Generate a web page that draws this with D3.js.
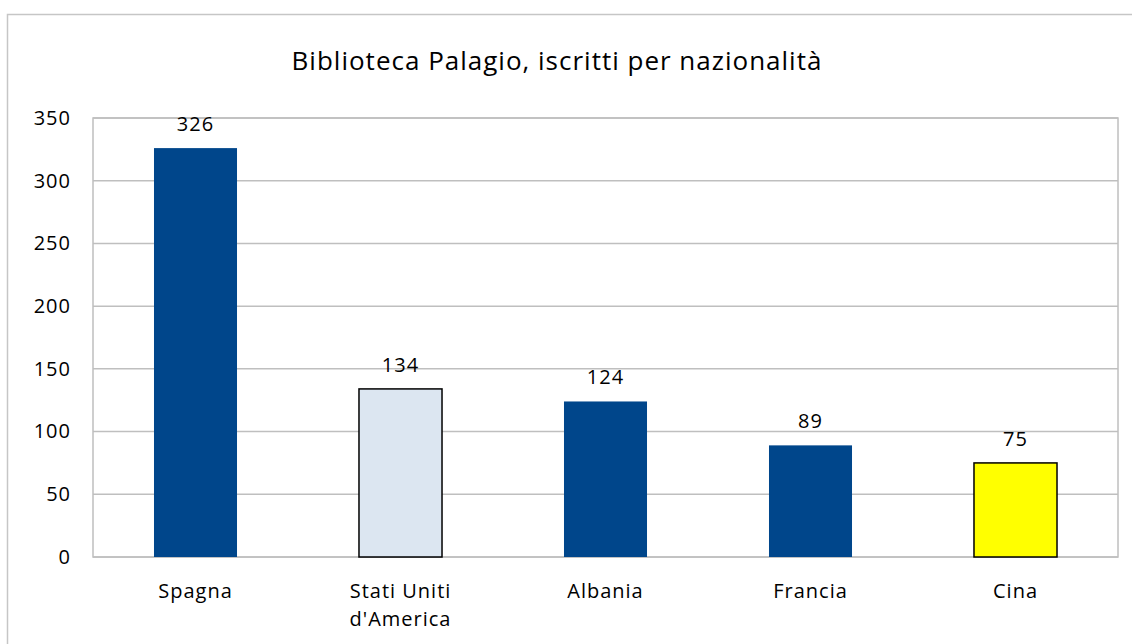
<!DOCTYPE html>
<html>
<head>
<meta charset="utf-8">
<script src="https://cdn.jsdelivr.net/npm/d3@7"></script>
<style>
  body { margin: 0; background: #fff; }
  text { font-family: "Open Sans", sans-serif; fill: #000; letter-spacing: 1px; }
</style>
</head>
<body>
<div id="canvas"></div>
<script>
// data
var countries = ['Spagna', "Stati Uniti\nd'America", 'Albania', 'Francia', 'Cina'];
var iscritti = [326, 134, 124, 89, 75];
var barColors = ['#00468b', '#dce6f1', '#00468b', '#00468b', '#ffff00'];
var barStroke = ['none', '#000', 'none', 'none', '#000'];
var yTicks = [0, 50, 100, 150, 200, 250, 300, 350];

var W = 1132, H = 644;
var m = {t:118, r:14, b:87, l:93};
var w = W - m.l - m.r,
    h = H - m.t - m.b;

var svg = d3.select('#canvas')
    .append('svg')
    .attr('width', W)
    .attr('height', H);

// outer chart border
svg.append('rect')
    .attr('x', 7.5).attr('y', 14.5)
    .attr('width', W).attr('height', H)
    .attr('fill', 'none')
    .attr('stroke', '#c6c6c6')
    .attr('stroke-width', 1.5);

svg.append('text')
    .attr('x', 557)
    .attr('y', 70)
    .attr('text-anchor', 'middle')
    .style('font-size', '26px')
    .text('Biblioteca Palagio, iscritti per nazionalità');

var plot = svg.append('g')
    .attr('transform', 'translate(' + m.l + ',' + m.t + ')');

var scaleX = d3.scaleBand()
    .domain(countries)
    .range([0, w])
    .paddingInner(0.595)
    .paddingOuter(0.2975);

var scaleY = d3.scaleLinear()
    .domain([0, 350])
    .range([h, 0]);

// gridlines
plot.selectAll('.grid')
    .data(yTicks)
    .enter()
    .append('line')
    .attr('class', 'grid')
    .attr('x1', 0).attr('x2', w)
    .attr('y1', function(d){ return scaleY(d); })
    .attr('y2', function(d){ return scaleY(d); })
    .attr('stroke', '#bfbfbf')
    .attr('stroke-width', 1.5);

// plot border
plot.append('rect')
    .attr('x', 0).attr('y', 0)
    .attr('width', w).attr('height', h)
    .attr('fill', 'none')
    .attr('stroke', '#bfbfbf')
    .attr('stroke-width', 1.5);

// y axis labels
var axisY = d3.axisLeft(scaleY)
    .tickValues(yTicks)
    .tickSize(0)
    .tickPadding(22);

var axisSelection = plot.append('g').attr('class', 'axis axis-y').call(axisY);
axisSelection.select('.domain').remove();
axisSelection.selectAll('text')
    .style('font-size', '20px')
    .style('font-family', '"Open Sans", sans-serif');

// bars
var rows = countries.map(function(c, i){
    return {name: c, value: iscritti[i], fill: barColors[i], stroke: barStroke[i]};
});

plot.selectAll('.bar')
    .data(rows)
    .enter()
    .append('rect')
    .attr('class', 'bar')
    .attr('x', function(d){ return scaleX(d.name); })
    .attr('width', scaleX.bandwidth())
    .attr('y', function(d){ return scaleY(d.value); })
    .attr('height', function(d){ return h - scaleY(d.value); })
    .attr('fill', function(d){ return d.fill; })
    .attr('stroke', function(d){ return d.stroke; })
    .attr('stroke-width', 1.5);

// value labels
plot.selectAll('.val')
    .data(rows)
    .enter()
    .append('text')
    .attr('class', 'val')
    .attr('x', function(d){ return scaleX(d.name) + scaleX.bandwidth() / 2; })
    .attr('y', function(d){ return scaleY(d.value) - 17; })
    .attr('text-anchor', 'middle')
    .style('font-size', '20px')
    .text(function(d){ return d.value; });

// category labels
var cat = plot.selectAll('.cat')
    .data(rows)
    .enter()
    .append('text')
    .attr('class', 'cat')
    .attr('x', function(d){ return scaleX(d.name) + scaleX.bandwidth() / 2; })
    .attr('y', h + 41)
    .attr('text-anchor', 'middle')
    .style('font-size', '20px');

cat.selectAll('tspan')
    .data(function(d){ return d.name.split('\n'); })
    .enter()
    .append('tspan')
    .attr('x', function(){ return this.parentNode.getAttribute('x'); })
    .attr('dy', function(d, i){ return i === 0 ? 0 : 28; })
    .text(function(d){ return d; });
</script>
</body>
</html>
